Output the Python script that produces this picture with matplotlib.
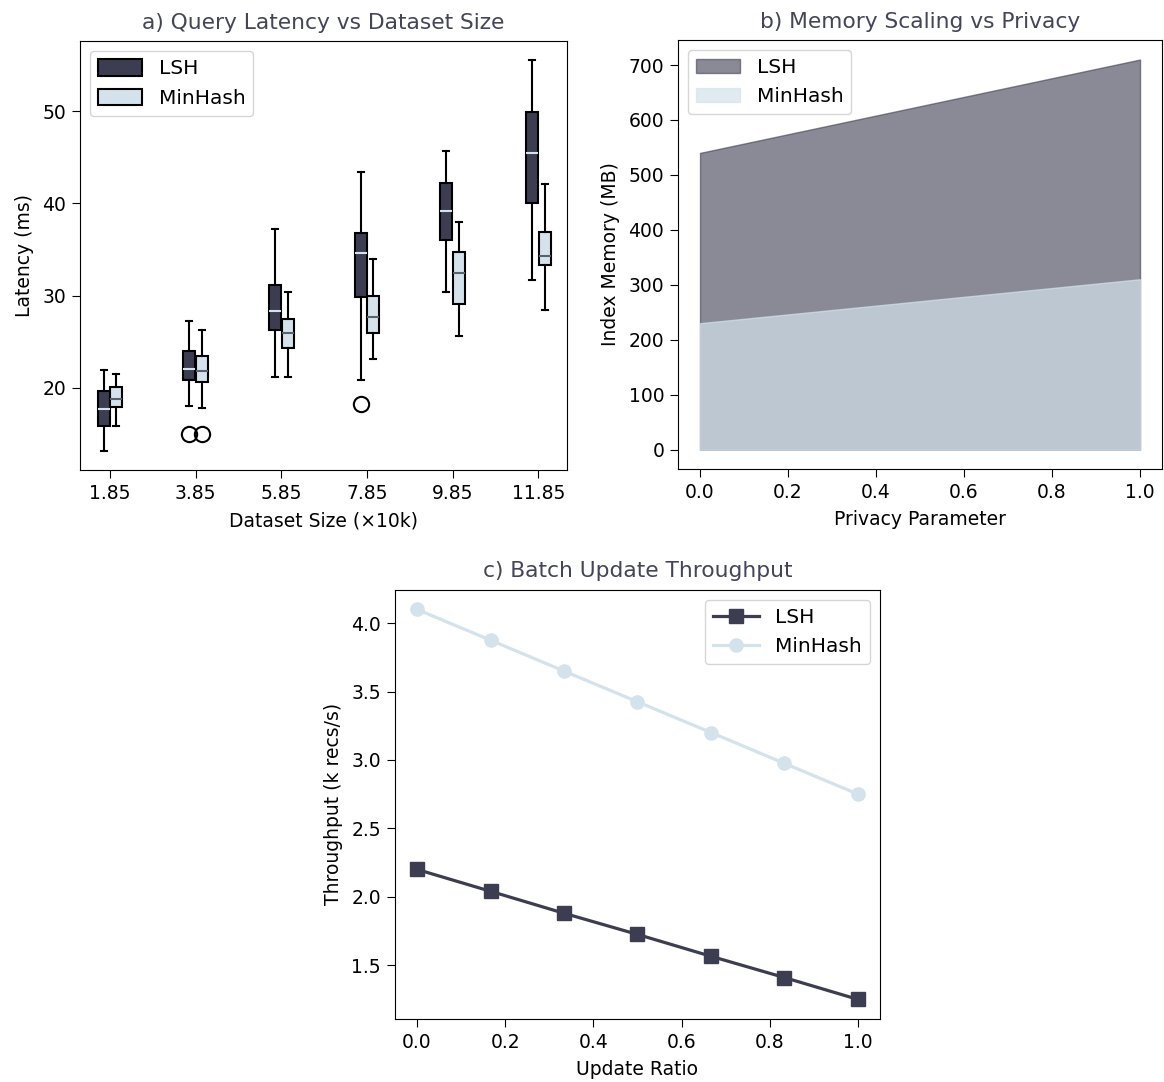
import numpy as np
import matplotlib.pyplot as plt
from matplotlib.patches import Patch

# 颜色
DARK = '#3d3d52'
LIGHT = '#d4e2ec'
TITLE_C = '#44445a'

# a) 查询延迟 (箱线图统计量)
sizes = [1.85, 3.85, 5.85, 7.85, 9.85, 11.85]
lsh_med = [17.7, 22.1, 28.3, 34.6, 39.2, 45.5]
lsh_q1 = [15.9, 20.9, 26.3, 29.9, 36.0, 40.0]
lsh_q3 = [19.7, 24.0, 31.1, 36.8, 42.2, 49.9]
lsh_lo = [13.2, 18.0, 21.2, 20.9, 30.4, 31.7]
lsh_hi = [21.9, 27.3, 37.2, 43.4, 45.7, 55.5]
lsh_fliers = [[], [15.0], [], [18.3], [], []]

mh_med = [18.8, 21.8, 26.0, 27.7, 32.5, 34.3]
mh_q1 = [17.9, 20.6, 24.3, 25.9, 29.1, 33.3]
mh_q3 = [20.1, 23.5, 27.5, 30.0, 34.7, 36.9]
mh_lo = [15.9, 17.8, 21.2, 23.1, 25.6, 28.4]
mh_hi = [21.5, 26.3, 30.4, 34.0, 38.0, 42.1]
mh_fliers = [[], [15.0], [], [], [], []]

# b) 内存
privacy = [0.0, 1.0]
lsh_mem = [540, 710]
mh_mem = [230, 310]

# c) 吞吐量
ratio = [0.0, 0.167, 0.333, 0.5, 0.667, 0.833, 1.0]
lsh_tp = [2.20, 2.04, 1.88, 1.725, 1.565, 1.41, 1.25]
mh_tp = [4.10, 3.875, 3.65, 3.425, 3.20, 2.975, 2.75]

plt.rcParams['font.size'] = 13.5
plt.rcParams['legend.fontsize'] = 14.5
plt.rcParams['xtick.major.size'] = 5.5
plt.rcParams['ytick.major.size'] = 5.5
plt.rcParams['xtick.major.pad'] = 4.5
plt.rcParams['ytick.major.pad'] = 4.5
plt.rcParams['axes.labelpad'] = 6
plt.rcParams['axes.titlepad'] = 9
plt.rcParams['axes.titlesize'] = 15.7

fig = plt.figure(figsize=(11.64, 10.82), dpi=100)
ax1 = fig.add_axes([0.0687, 0.5656, 0.4184, 0.3965])
ax2 = fig.add_axes([0.5825, 0.5665, 0.4158, 0.3965])
ax3 = fig.add_axes([0.3393, 0.0583, 0.4167, 0.3965])


def make_stats(med, q1, q3, lo, hi, fl):
    out = []
    for i in range(len(med)):
        out.append(dict(med=med[i], q1=q1[i], q3=q3[i], whislo=lo[i],
                        whishi=hi[i], fliers=fl[i]))
    return out


def draw_boxes(stats, pos, face, medc):
    ax1.bxp(stats, positions=pos, widths=0.28, patch_artist=True,
            boxprops=dict(facecolor=face, edgecolor='black', linewidth=1.5),
            medianprops=dict(color=medc, linewidth=1.5),
            whiskerprops=dict(color='black', linewidth=1.5),
            capprops=dict(color='black', linewidth=1.5),
            flierprops=dict(marker='o', markerfacecolor='none',
                            markeredgecolor='black', markersize=11,
                            markeredgewidth=1.5),
            manage_ticks=False)


x = np.array(sizes)
draw_boxes(make_stats(lsh_med, lsh_q1, lsh_q3, lsh_lo, lsh_hi, lsh_fliers),
           x - 0.15, DARK, LIGHT)
draw_boxes(make_stats(mh_med, mh_q1, mh_q3, mh_lo, mh_hi, mh_fliers),
           x + 0.15, LIGHT, '#5a6070')
ax1.set_xticks(sizes)
ax1.set_xticklabels([str(s) for s in sizes])
ax1.set_xlim(1.15, 12.52)
ax1.set_ylim(11.1, 57.6)
ax1.set_xlabel('Dataset Size (×10k)')
ax1.set_ylabel('Latency (ms)')
ax1.set_title('a) Query Latency vs Dataset Size', color=TITLE_C)
ax1.legend(handles=[Patch(facecolor=DARK, edgecolor='black', linewidth=1.5, label='LSH'),
                    Patch(facecolor=LIGHT, edgecolor='black', linewidth=1.5, label='MinHash')],
           loc='upper left', handlelength=2.2, handleheight=0.9)

# b
ax2.fill_between(privacy, 0, lsh_mem, color=DARK, alpha=0.6, label='LSH')
ax2.fill_between(privacy, 0, mh_mem, color=LIGHT, alpha=0.7, label='MinHash')
ax2.set_xlabel('Privacy Parameter')
ax2.set_ylabel('Index Memory (MB)')
ax2.set_title('b) Memory Scaling vs Privacy', color=TITLE_C)
ax2.legend(loc='upper left', handlelength=2.2)

# c
ax3.plot(ratio, lsh_tp, color=DARK, marker='s', markersize=9.5, linewidth=2.3, label='LSH')
ax3.plot(ratio, mh_tp, color=LIGHT, marker='o', markersize=9.5, linewidth=2.3, label='MinHash')
ax3.set_xlabel('Update Ratio')
ax3.set_ylabel('Throughput (k recs/s)')
ax3.set_title('c) Batch Update Throughput', color=TITLE_C)
ax3.legend(loc='upper right', handlelength=2.3)

fig.savefig('out.png', dpi=100)
